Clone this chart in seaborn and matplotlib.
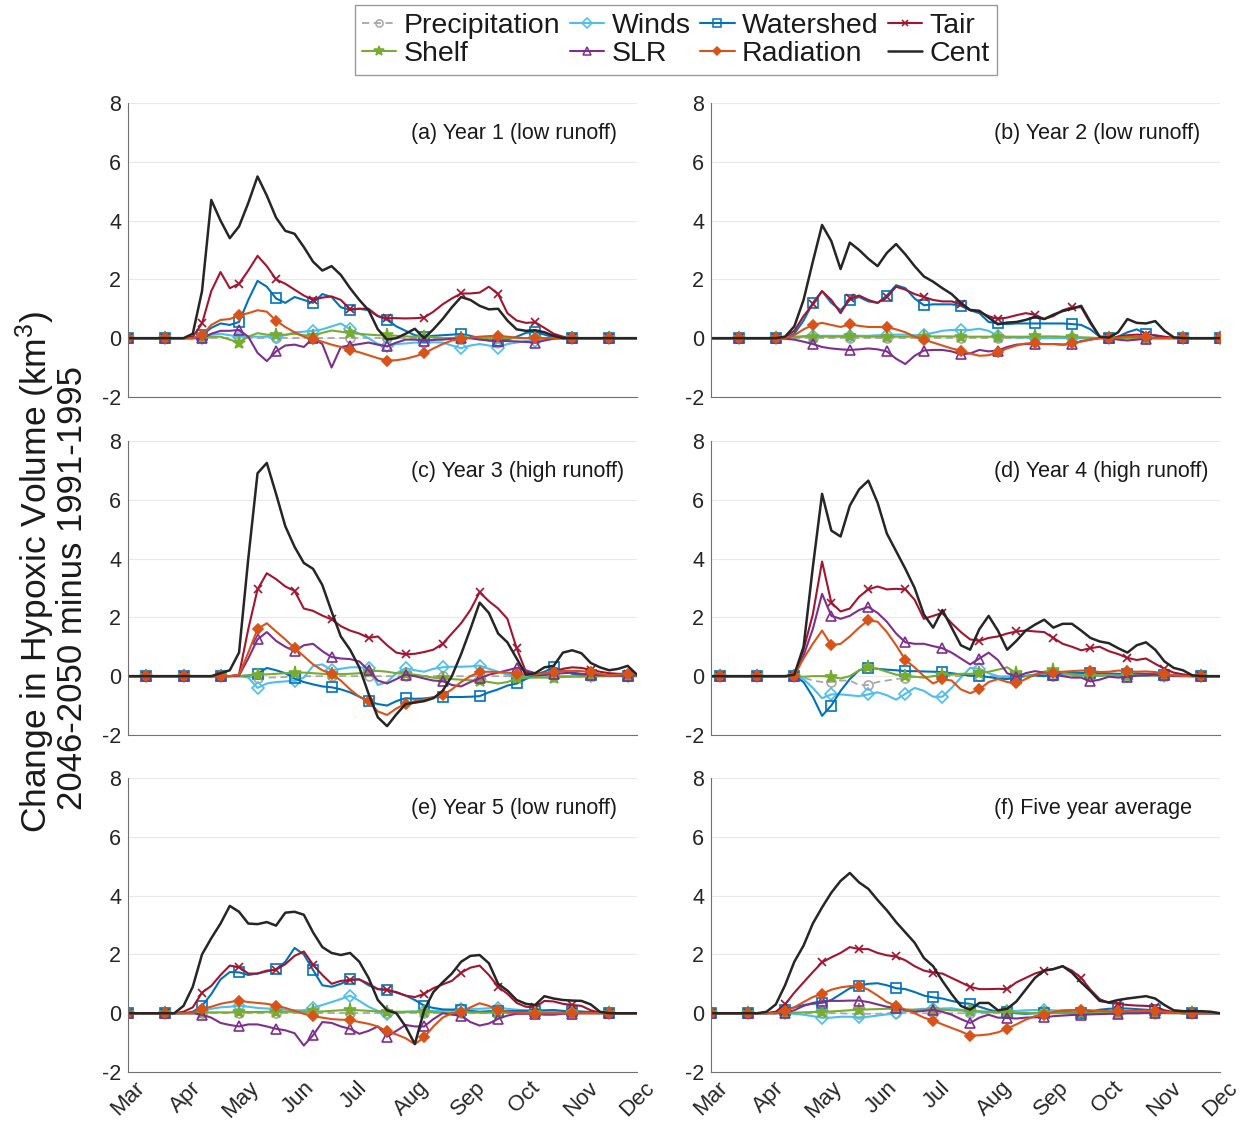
import matplotlib
matplotlib.use("Agg")
import matplotlib.pyplot as plt
from matplotlib.lines import Line2D
import seaborn as sns

# ---------------------------------------------------------------------------
# Data: change in hypoxic volume (km^3), 2046-2050 minus 1991-1995,
# sampled every 5 days from 1 March (day 0) to 1 December (day 275).
# ---------------------------------------------------------------------------
DAYS = list(range(0, 276, 5))
MONTH_DAYS = [0, 31, 61, 92, 122, 153, 184, 214, 245, 275]
MONTH_LABELS = ["Mar", "Apr", "May", "Jun", "Jul", "Aug", "Sep", "Oct", "Nov", "Dec"]
Y_TICKS = [-2, 0, 2, 4, 6, 8]

SERIES = ["Precipitation", "Winds", "Watershed", "Tair", "Shelf", "SLR", "Radiation", "Cent"]
PANEL_TITLES = ["(a) Year 1 (low runoff)", "(b) Year 2 (low runoff)",
                "(c) Year 3 (high runoff)", "(d) Year 4 (high runoff)",
                "(e) Year 5 (low runoff)", "(f) Five year average"]
# index of the first marked sample in each panel (markers every 20 days)
MARK_START = [0, 3, 2, 1, 0, 0]

# ---- (a) Year 1 ----
A_PRECIP = [0, 0, 0, 0, 0, 0, 0, 0, 0, 0, 0, 0, 0, 0, 0, 0, 0, 0, 0, 0, 0, 0, 0, 0, 0, 0, 0, 0,
            0, 0, 0, 0, 0, 0, 0, 0, 0, 0, 0, 0, 0, 0, 0, 0, 0, 0, 0, 0, 0, 0, 0, 0, 0, 0, 0, 0]
A_WINDS = [0, 0, 0, 0, 0, 0, 0, 0,
           .02, .12, .15, .1, .05, .05, .05, .05, .05, .1, .2, .22, .25, .3, .4, .5, .3, .15, 0, -.2,
           -.28, -.2, -.18, -.15, -.15, -.14, -.15, -.25, -.34, -.25, -.2, -.25, -.32, -.2, -.15, -.1,
           -.08, -.04, 0, 0, 0, 0, 0, 0, 0, 0, 0, 0]
A_WATERSHED = [0, 0, 0, 0, 0, 0, 0, 0,
               .1, .35, .5, .45, .55, 1.3, 1.95, 1.75, 1.35, 1.2, 1.4, 1.3, 1.2, 1.5, 1.4, 1.05, .96,
               1.0, .95, .75, .62, .4, .25, .1, .05, .08, .1, .12, .14, .08, 0, -.08, -.1, -.05, .05,
               .18, .22, .12, .03, 0, 0, 0, 0, 0, 0, 0, 0, 0]
A_TAIR = [0, 0, 0, 0, 0, 0, 0,
          .05, .5, 1.6, 2.25, 1.7, 1.85, 2.3, 2.8, 2.45, 2.0, 1.85, 1.65, 1.45, 1.3, 1.38, 1.42, 1.3,
          .98, 1.0, 1.0, .75, .68, .68, .67, .68, .7, .9, 1.15, 1.35, 1.52, 1.52, 1.55, 1.75, 1.5, .85,
          .6, .52, .54, .35, .15, .05, 0, 0, 0, 0, 0, 0, 0, 0]
A_SHELF = [0, 0, 0, 0, 0, 0, 0, 0, 0,
           .05, .05, -.05, -.15, .05, .17, .12, .1, .12, .15, .1, .08, .18, .26, .22, .17, .15, .12,
           .1, .1, .08, .06, .05, .05, .03,
           0, 0, 0, 0, 0, 0, 0, 0, 0, 0, 0, 0, 0, 0, 0, 0, 0, 0, 0, 0, 0, 0]
A_SLR = [0, 0, 0, 0, 0, 0, 0, 0, 0,
         .15, .25, .25, .28, .05, -.5, -.78, -.45, -.25, -.22, -.3, 0, -.2, -1.0, -.3, -.25, -.2,
         -.15, -.22, -.28, -.15, -.05, -.05, -.08, -.06, -.05, -.02, 0, 0, -.05, -.08, -.08, -.1,
         -.11, -.13, -.15, -.08, -.02, 0, 0, 0, 0, 0, 0, 0, 0, 0]
A_RADIATION = [0, 0, 0, 0, 0, 0, 0, 0,
               .1, .45, .62, .65, .78, .85, .95, .9, .6, .38, .2, .05, -.03, -.12, -.22, -.3, -.4,
               -.48, -.58, -.68, -.76, -.75, -.7, -.62, -.52, -.35, -.2, -.08, -.03, .02, .05, .07,
               .08, .05, .02, 0, 0, 0, 0, 0, 0, 0, 0, 0, 0, 0, 0, 0]
A_CENT = [0, 0, 0, 0, 0, 0, 0,
          .15, 1.6, 4.7, 4.0, 3.4, 3.8, 4.6, 5.5, 4.85, 4.1, 3.65, 3.55, 3.1, 2.6, 2.3, 2.45, 2.15,
          1.7, 1.3, .95, .3, -.05, 0, .15, .32, 0, .3, .65, 1.05, 1.4, 1.3, 1.1, .98, 1.0, .6, .3,
          .25, .27, .2, .08, 0, 0, 0, 0, 0, 0, 0, 0, 0]

# ---- (b) Year 2 ----
B_PRECIP = [0, 0, 0, 0, 0, 0, 0, 0, 0, 0, 0, 0, 0, 0, 0, 0, 0, 0, 0, 0, 0, 0, 0, 0, 0, 0, 0, 0,
            0, 0, 0, 0, 0, 0, 0, 0, 0, 0, 0, 0, 0, 0, 0, 0, 0, 0, 0, 0, 0, 0, 0, 0, 0, 0, 0, 0]
B_WINDS = [0, 0, 0, 0, 0, 0, 0, 0, 0,
           .05, .07, .08, .08, .08, .08, .08, .08, .08, .1, .1, .12, .12, .1, .12, .18, .25, .28,
           .28, .28, .32, .25, .08, .03, .02, .02, 0,
           0, 0, 0, 0, 0, 0, 0, 0, 0, 0, 0, 0, 0, 0, 0, 0, 0, 0, 0, 0]
B_WATERSHED = [0, 0, 0, 0, 0, 0, 0, 0, 0,
               .15, .6, 1.2, 1.6, 1.2, .95, 1.3, 1.4, 1.25, 1.2, 1.45, 1.8, 1.7, 1.35, 1.12, 1.15,
               1.15, 1.15, 1.1, .95, .85, .55, .5, .48, .5, .5, .5, .5, .5, .5, .48, .45, .3, .05, 0,
               .05, .2, .3, .15, .08, .03, 0, 0, 0, 0, 0, 0]
B_TAIR = [0, 0, 0, 0, 0, 0, 0, 0,
          .05, .25, .75, 1.15, 1.6, 1.3, .85, 1.35, 1.45, 1.3, 1.2, 1.4, 1.75, 1.65, 1.5, 1.4, 1.3,
          1.25, 1.25, 1.15, .95, .9, .75, .65, .7, .78, .85, .8, .65, .75, .95, 1.05, 1.05, .5, .05,
          0, .05, .1, .12, .1, .1, .05, .01, 0, 0, 0, 0, 0]
B_SHELF = [0, 0, 0, 0, 0, 0, 0, 0, 0,
           .03, .05, .05, .05, .05, .05, .06, .06, .05, .05, .05, .05, .05, .05, .05, .06, .06, .06,
           .05, .05, .05, .05, .05, .05, .05, .05, .06, .06, .06, .05, .04, .03, .02,
           0, 0, 0, 0, 0, 0, 0, 0, 0, 0, 0, 0, 0, 0]
B_SLR = [0, 0, 0, 0, 0, 0, 0, 0,
         -.02, -.05, -.12, -.2, -.3, -.35, -.38, -.4, -.38, -.35, -.38, -.45, -.7, -.88, -.6, -.42,
         -.4, -.4, -.45, -.55, -.52, -.4, -.45, -.42, -.3, -.22, -.2, -.2, -.2, -.2, -.22, -.2, -.1,
         -.05, 0, 0, -.05, -.08, -.05, -.02, 0, 0, 0, 0, 0, 0, 0, 0]
B_RADIATION = [0, 0, 0, 0, 0, 0, 0, 0, 0,
               .1, .3, .45, .52, .45, .38, .47, .42, .38, .38, .37, .3, .2, .05, -.05, -.15, -.25,
               -.35, -.42, -.52, -.6, -.58, -.48, -.35, -.25, -.18, -.17, -.2, -.2, -.22, -.18, -.12,
               -.05, 0, 0, .02, .05, .05, .03, 0, 0, 0, 0, 0, 0, 0, 0]
B_CENT = [0, 0, 0, 0, 0, 0, 0, 0,
          .05, .4, 1.3, 2.6, 3.85, 3.3, 2.35, 3.25, 3.0, 2.7, 2.45, 2.9, 3.2, 2.85, 2.45, 2.1, 1.92,
          1.7, 1.5, 1.2, .96, .93, .7, .47, .53, .55, .62, .72, .65, .8, .92, 1.0, 1.1, .55, .05, .02,
          .2, .65, .52, .5, .58, .25, .03, 0, 0, 0, 0, 0]

# ---- (c) Year 3 ----
C_PRECIP = [0, 0, 0, 0, 0, 0, 0, 0, 0, 0, 0, 0, 0,
            -.03, -.06, -.05, -.04, -.03,
            0, 0, 0, 0, 0, 0, 0, 0, 0, 0, 0, 0, 0, 0, 0, 0, 0, 0, 0, 0, 0, 0, 0, 0, 0, 0, 0, 0, 0,
            0, 0, 0, 0, 0, 0, 0, 0, 0]
C_WINDS = [0, 0, 0, 0, 0, 0, 0, 0, 0, 0, 0, 0, 0,
           -.05, -.4, -.25, -.2, -.18, -.15, -.05, .35, .4, .2, .25, .3, .3, .28, -.3, -.2, .1, .27,
           .2, .15, .25, .3, .32, .32, .33, .36, .25, .15, .05,
           0, 0, 0, 0, 0, 0, 0, 0, 0, 0, 0, 0, 0, 0]
C_WATERSHED = [0, 0, 0, 0, 0, 0, 0, 0, 0, 0, 0, 0,
               0, .02, .08, .28, .2, .1, -.08, -.2, -.28, -.35, -.38, -.45, -.55, -.7, -.85, -.95,
               -1.0, -.85, -.75, -.77, -.76, -.72, -.71, -.71, -.71, -.7, -.68, -.55, -.45, -.32,
               -.25, -.1, .05, .15, .3, .2, .08, .05, .05, .02, .02, .02, .02, .02]
C_TAIR = [0, 0, 0, 0, 0, 0, 0, 0, 0, 0, 0, 0,
          .05, 1.6, 2.95, 3.5, 3.3, 3.05, 2.9, 2.3, 2.22, 2.06, 1.93, 1.7, 1.55, 1.45, 1.3, 1.35,
          1.05, .8, .74, .76, .82, .9, 1.1, 1.45, 1.8, 2.25, 2.85, 2.55, 2.3, 1.95, .95, .15, .02,
          .05, .1, .25, .3, .28, .22, .15, .1, .08, .08, .03]
C_SHELF = [0, 0, 0, 0, 0, 0, 0, 0, 0, 0, 0, 0, 0,
           .03, .05, .06, .08, .1, .12, .12, .1, .08, .06, .07, .08, .1, .15,
           .18, .15, .1, .08, .05, 0, -.05, -.08, -.1, -.12, -.14, -.15, -.2, -.25, -.2, -.08, -.05,
           -.05, -.05, -.05, -.03, -.02, -.02, -.01, 0, 0, 0, 0, 0]
C_SLR = [0, 0, 0, 0, 0, 0, 0, 0, 0, 0, 0, 0,
         .02, .6, 1.25, 1.5, 1.2, 1.0, .85, 1.05, 1.1, .85, .65, .6, .58, .5, .2, -.15, -.25, -.1,
         .05, 0, -.08, -.15, -.17, -.3, -.35, -.2, -.08, .05, .12, .2, .28, .2, .1, .05, .08, .1,
         .12, .08, .05, .03, .02, .02, .02, .02]
C_RADIATION = [0, 0, 0, 0, 0, 0, 0, 0, 0, 0, 0, 0,
               .05, .8, 1.6, 1.8, 1.52, 1.25, .95, .68, .4, .2, .08, -.15, -.45, -.7, -.85, -1.2,
               -1.32, -1.1, -.94, -.85, -.8, -.72, -.65, -.45, -.2, 0, .14, .15, .14, .12, .08, .05,
               .05, .1, .14, .17, .18, .17, .14, .08, .03, .05, .08, .05]
C_CENT = [0, 0, 0, 0, 0, 0, 0, 0, 0, 0,
          .1, .2, .8, 4.0, 6.9, 7.25, 6.2, 5.1, 4.4, 3.85, 3.65, 3.1, 2.2, 1.35, .9, .3, -.6, -1.4,
          -1.7, -1.3, -.95, -.9, -.85, -.75, -.5, 0, .75, 1.6, 2.5, 2.15, 1.45, 1.15, .6, .05, .1,
          .3, .35, .8, .88, .78, .45, .3, .2, .25, .35, .05]

# ---- (d) Year 4 ----
D_PRECIP = [0, 0, 0, 0, 0, 0, 0, 0, 0, 0,
            -.05, -.15, -.2, -.2, -.15, -.15, -.3, -.3, -.2, -.15, -.1, -.05, -.03, -.02,
            0, 0, 0, 0, 0, 0, 0, 0, 0, 0, 0, 0, 0, 0, 0, 0, 0, 0, 0, 0, 0, 0, 0, 0, 0, 0, 0, 0,
            0, 0, 0, 0]
D_WINDS = [0, 0, 0, 0, 0, 0, 0, 0, 0, 0,
           -.1, -.4, -.75, -.62, -.62, -.65, -.68, -.62, -.55, -.65, -.8, -.6, -.4, -.5, -.7, -.7,
           -.4, -.05, .28, .25, .1, 0, -.05, 0, .02, .05, .05, .05, .05, .05, .05, .05, .03, .02,
           .02, .02, .02, .02, .02, .01, 0, 0, 0, 0, 0, 0]
D_WATERSHED = [0, 0, 0, 0, 0, 0, 0, 0, 0,
               0, -.2, -.7, -1.35, -1.0, -.5, -.1, .2, .28, .25, .22, .2, .17, .17, .16, .15, .14,
               .1, .06, .02, 0, -.03, -.08, -.1, -.05, 0, .02, 0, .05, .1, .12, .11, .1, .1, .09,
               .08, .08, .09, .08, .07, .05, .03, .01, 0, 0, 0, 0]
D_TAIR = [0, 0, 0, 0, 0, 0, 0, 0, 0,
          .02, .9, 2.1, 3.9, 2.5, 2.2, 2.3, 2.7, 2.95, 3.05, 2.95, 2.97, 2.95, 2.6, 1.95, 2.05, 2.15,
          1.8, 1.5, 1.25, 1.2, 1.3, 1.35, 1.45, 1.52, 1.55, 1.52, 1.5, 1.3, 1.1, 1.0, .88, .95, 1.0,
          .85, .75, .62, .55, .6, .42, .25, .12, .06, .02, 0, 0, 0]
D_SHELF = [0, 0, 0, 0, 0, 0, 0, 0, 0, 0,
           -.02, 0, 0, -.02, -.08, 0, .2, .3, .25, .15, .05, .02, -.02, -.05, 0, .05, .05, .08, .08,
           .1, .15, .22, .3, .1, 0, .05, .15, .22, .12, .05, .02, .02, .02, .02, .02, .02, .02, .02,
           .02, .01, 0, 0, 0, 0, 0, 0]
D_SLR = [0, 0, 0, 0, 0, 0, 0, 0, 0,
         .02, .7, 1.6, 2.8, 2.05, 1.95, 2.05, 2.25, 2.35, 2.15, 1.85, 1.45, 1.15, 1.1, 1.1, 1.02,
         .95, .8, .6, .4, .6, .8, .55, .1, -.02, .1, .17, .12, .05, 0, -.05, -.05, -.18, -.12, -.02,
         -.05, -.02, .02, .03, .05, .03, .01, .01, 0, 0, 0, 0]
D_RADIATION = [0, 0, 0, 0, 0, 0, 0, 0, 0,
               .02, .6, 1.1, 1.55, 1.05, 1.1, 1.35, 1.65, 1.9, 1.85, 1.5, 1.05, .55, .3, 0, -.25,
               -.1, -.15, -.45, -.58, -.45, -.2, -.1, -.2, -.25, -.1, .05, .1, .12, .15, .17, .19,
               .18, .14, .15, .19, .17, .15, .16, .14, .08, .03, .01, 0, 0, 0, 0]
D_CENT = [0, 0, 0, 0, 0, 0, 0, 0, 0,
          .05, 1.0, 3.7, 6.2, 4.95, 4.75, 5.8, 6.35, 6.65, 5.9, 4.85, 4.25, 3.65, 3.0, 2.1, 1.65,
          2.25, 1.65, 1.05, .9, 1.6, 2.05, 1.55, .9, 1.2, 1.55, 1.75, 1.92, 1.65, 1.78, 1.78, 1.55,
          1.3, 1.18, 1.12, .95, .8, 1.05, 1.15, .9, .5, .28, .2, .03, 0, 0, 0]

# ---- (e) Year 5 ----
E_PRECIP = [0, 0, 0, 0, 0, 0, 0, 0, 0, 0, 0, 0, 0, 0, 0, 0, 0, 0, 0, 0, 0, 0, 0, 0, 0, 0, 0, 0,
            0, 0, 0, 0, 0, 0, 0, 0, 0, 0, 0, 0, 0, 0, 0, 0, 0, 0, 0, 0, 0, 0, 0, 0, 0, 0, 0, 0]
E_WINDS = [0, 0, 0, 0, 0, 0, 0, 0,
           .1, .15, .2, .22, .26, .22, .18, .16, .15, .12, .1, .1, .18, .28, .38, .48, .6, .42, .22,
           .08, -.02, .02, .05, .06, .06, .08, .1, .12, .15, .15, .15, .17, .18, .15, .12, .1, .08,
           .07, .06, .06, .06, .04, .02, 0, 0, 0, 0, 0]
E_WATERSHED = [0, 0, 0, 0, 0, 0, 0,
               .05, .25, .65, 1.15, 1.4, 1.39, 1.3, 1.35, 1.42, 1.5, 1.75, 2.22, 2.0, 1.47, .95, .9,
               1.0, 1.15, 1.15, .95, .82, .8, .7, .6, .45, .26, .18, .13, .12, .11, .08, .05, .07,
               .07, .07, .08, .08, .09, .1, .11, .08, .07, .06, .04, .01, 0, 0, 0, 0]
E_TAIR = [0, 0, 0, 0, 0, 0,
          .05, .2, .7, .93, 1.3, 1.62, 1.57, 1.35, 1.35, 1.45, 1.48, 1.67, 1.95, 2.1, 1.65, 1.3, 1.0,
          1.1, 1.13, 1.15, 1.0, .82, .79, .72, .6, .55, .66, .85, .98, 1.1, 1.38, 1.55, 1.62, 1.3,
          .9, .66, .35, .22, .2, .42, .4, .32, .28, .25, .1, .02, 0, 0, 0, 0]
E_SHELF = [0, 0, 0, 0, 0, 0, 0, 0,
           .02, .03, .03, .03, .04, .04, .04, .05, .05, .05, .05, .05, .06, .06, .08, .1, .11, .1,
           .08, .06, .05, .05, .05, .05, .04, .04, .03, .03, .03, .03, .02, .02, .02, .02,
           0, 0, 0, 0, 0, 0, 0, 0, 0, 0, 0, 0, 0, 0]
E_SLR = [0, 0, 0, 0, 0, 0, 0, 0,
         -.05, -.15, -.33, -.4, -.45, -.38, -.38, -.45, -.53, -.58, -.68, -1.1, -.75, -.3, -.33,
         -.45, -.53, -.7, -.6, -.45, -.8, -.6, -.4, -.45, -.45, -.2, 0, -.05, -.08, -.3, -.42, -.35,
         -.19, -.08, -.02, -.02, -.02, -.05, -.05, -.02, -.02, 0, 0, 0, 0, 0, 0, 0]
E_RADIATION = [0, 0, 0, 0, 0, 0, 0, 0,
               .15, .22, .32, .38, .43, .38, .35, .32, .26, .18, .08, -.02, -.1, -.15, -.2, -.22,
               -.23, -.3, -.36, -.45, -.62, -.72, -.85, -1.05, -.82, -.45, -.15, 0, .03, .2, .34,
               .25, .11, .05, .02, 0, -.02, 0, 0, 0, 0, 0, 0, 0, 0, 0, 0, 0]
E_CENT = [0, 0, 0, 0, 0, 0,
          .25, .9, 2.0, 2.55, 3.05, 3.65, 3.45, 3.05, 3.03, 3.1, 2.98, 3.42, 3.45, 3.35, 2.75, 2.25,
          2.05, 1.98, 2.05, 1.75, 1.2, .45, .1, 0, -.45, -1.05, .1, .72, 1.05, 1.35, 1.75, 1.95,
          1.98, 1.7, 1.0, .77, .45, .32, .28, .58, .5, .45, .43, .42, .3, .05, 0, 0, 0, 0]

# ---- (f) Five year average ----
F_PRECIP = [0, 0, 0, 0, 0, 0, 0, 0, 0, 0, 0, 0, 0, 0, 0,
            -.02, -.02, -.02, -.02,
            0, 0, 0, 0, 0, 0, 0, 0, 0, 0, 0, 0, 0, 0, 0, 0, 0, 0, 0, 0, 0, 0, 0, 0, 0, 0, 0, 0,
            0, 0, 0, 0, 0, 0, 0, 0, 0]
F_WINDS = [0, 0, 0, 0, 0, 0, 0, 0, 0,
           -.02, -.05, -.1, -.15, -.15, -.12, -.12, -.14, -.12, -.08, -.04, 0, .05, .12, .15, .15,
           .16, .17, .12, .07, .04, .03, .05, .07, .08, .1, .11, .11, .1, .08, .06, .05, .04, .03,
           .03, .03, .03, .03, .02, .02, .01, 0, 0, 0, 0, 0, 0]
F_WATERSHED = [0, 0, 0, 0, 0, 0, 0,
               .03, .12, .2, .28, .32, .35, .45, .65, .85, .94, 1.0, 1.02, .95, .85, .82, .72, .6,
               .54, .5, .42, .35, .32, .22, .12, .05, .03, 0, -.02, 0, 0, .02, .03, .02, 0, .05, .12,
               .15, .17, .16, .14, .12, .1, .06, .02, 0, 0, 0, 0, 0]
F_TAIR = [0, 0, 0, 0, 0, 0, 0,
          .05, .3, .7, 1.05, 1.4, 1.73, 1.9, 2.05, 2.25, 2.18, 2.18, 2.05, 1.97, 1.93, 1.8, 1.6,
          1.45, 1.38, 1.35, 1.2, 1.05, .9, .82, .82, .83, .82, 1.05, 1.2, 1.35, 1.45, 1.5, 1.6, 1.45,
          1.2, .8, .48, .35, .32, .28, .26, .25, .22, .1, .04, 0, 0, 0, 0, 0]
F_SHELF = [0, 0, 0, 0, 0, 0, 0, 0, 0,
           .02, .03, .04, .05, .06, .08, .1, .12, .13, .14, .15, .14, .13, .12, .12, .12, .12, .1,
           .09, .08, .07, .05, .04, .03, .02, .02,
           0, 0, 0, 0, 0, 0, 0, 0, 0, 0, 0, 0, 0, 0, 0, 0, 0, 0, 0, 0, 0]
F_SLR = [0, 0, 0, 0, 0, 0, 0, 0,
         .02, .1, .25, .35, .41, .42, .42, .43, .43, .38, .3, .22, .18, .1, .05, .08, .11, .05, -.05,
         -.2, -.33, -.15, -.05, -.15, -.16, -.18, -.15, -.14, -.14, -.1, -.08, -.06, -.05, -.04,
         -.03, -.02, -.02, 0, 0, .01, .01, .02, .03, .02, 0, 0, 0, 0]
F_RADIATION = [0, 0, 0, 0, 0, 0, 0, 0,
               .08, .2, .38, .55, .66, .8, .88, .92, .93, .8, .6, .38, .26, .12, 0, -.15, -.25,
               -.38, -.5, -.62, -.76, -.75, -.72, -.65, -.52, -.38, -.22, -.1, -.05, .05, .1, .11,
               .11, .1, .08, .07, .07, .08, .08, .08, .08, .05, .02, 0, 0, 0, 0, 0]
F_CENT = [0, 0, 0, 0, 0, 0,
          .05, .3, .95, 1.75, 2.3, 3.05, 3.6, 4.1, 4.5, 4.77, 4.45, 4.23, 3.85, 3.5, 3.1, 2.75, 2.4,
          1.88, 1.6, 1.1, .65, .25, .12, .35, .35, .1, .15, .4, .8, 1.2, 1.45, 1.5, 1.6, 1.38, 1.05,
          .75, .42, .37, .45, .5, .54, .58, .5, .28, .1, .07, .07, .07, .05, 0]

PANELS = [
    [A_PRECIP, A_WINDS, A_WATERSHED, A_TAIR, A_SHELF, A_SLR, A_RADIATION, A_CENT],
    [B_PRECIP, B_WINDS, B_WATERSHED, B_TAIR, B_SHELF, B_SLR, B_RADIATION, B_CENT],
    [C_PRECIP, C_WINDS, C_WATERSHED, C_TAIR, C_SHELF, C_SLR, C_RADIATION, C_CENT],
    [D_PRECIP, D_WINDS, D_WATERSHED, D_TAIR, D_SHELF, D_SLR, D_RADIATION, D_CENT],
    [E_PRECIP, E_WINDS, E_WATERSHED, E_TAIR, E_SHELF, E_SLR, E_RADIATION, E_CENT],
    [F_PRECIP, F_WINDS, F_WATERSHED, F_TAIR, F_SHELF, F_SLR, F_RADIATION, F_CENT],
]
bad = [(p, SERIES[s], len(v)) for p, panel in enumerate(PANELS)
       for s, v in enumerate(panel) if len(v) != len(DAYS)]
assert not bad, f"length mismatch: {bad}"

# ---------------------------------------------------------------------------
# Styling
# ---------------------------------------------------------------------------
STYLE = {
    "Precipitation": dict(color="#a8a8a8", ls=(0, (4, 2.5)), marker="o", mfc="none", ms=6.5, lw=1.3),
    "Winds":         dict(color="#4DBEEE", ls="-", marker="D", mfc="none", ms=6.0, lw=1.5),
    "Watershed":     dict(color="#0072BD", ls="-", marker="s", mfc="none", ms=6.5, lw=1.5),
    "Tair":          dict(color="#A2142F", ls="-", marker="x", mfc="none", ms=6.0, lw=1.5),
    "Shelf":         dict(color="#77AC30", ls="-", marker="*", mfc="#77AC30", ms=9.5, lw=1.5),
    "SLR":           dict(color="#7E2F8E", ls="-", marker="^", mfc="none", ms=7.0, lw=1.5),
    "Radiation":     dict(color="#D95319", ls="-", marker="D", mfc="#D95319", ms=5.5, lw=1.5),
    "Cent":          dict(color="#262626", ls="-", marker=None, mfc="none", ms=0, lw=1.8),
}

sns.set_style("white")
plt.rcParams.update({
    "font.family": ["Liberation Sans", "DejaVu Sans"],
    "mathtext.fontset": "custom",
    "mathtext.rm": "Liberation Sans",
    "mathtext.it": "Liberation Sans:italic",
    "axes.edgecolor": "#707070",
    "axes.linewidth": 0.8,
    "text.color": "#1a1a1a",
    "xtick.color": "#707070",
    "ytick.color": "#707070",
    "xtick.labelcolor": "#262626",
    "ytick.labelcolor": "#262626",
})

fig = plt.figure(figsize=(12.45, 11.3), dpi=100)

LEFTS = [0.1028, 0.5711]
BOTTOMS = [0.6487, 0.3496, 0.0513]
WIDTH, HEIGHT = 0.4088, 0.2602

for p, panel in enumerate(PANELS):
    row, col = divmod(p, 2)
    ax = fig.add_axes([LEFTS[col], BOTTOMS[row], WIDTH, HEIGHT])
    for name, values in zip(SERIES, panel):
        st = STYLE[name]
        kws = dict(color=st["color"], linestyle=st["ls"], linewidth=st["lw"])
        if st["marker"] is not None:
            kws.update(marker=st["marker"], markersize=st["ms"], markevery=(MARK_START[p], 4),
                       markerfacecolor=st["mfc"], markeredgecolor=st["color"],
                       markeredgewidth=1.2)
        sns.lineplot(x=DAYS, y=values, ax=ax, estimator=None, errorbar=None,
                     sort=False, legend=False, **kws)

    ax.set_xlim(MONTH_DAYS[0], MONTH_DAYS[-1])
    ax.set_ylim(-2, 8)
    ax.set_yticks(Y_TICKS)
    ax.set_yticklabels([str(t) for t in Y_TICKS], fontsize=15.5)
    ax.set_xticks(MONTH_DAYS)
    if row == 2:
        ax.set_xticklabels(MONTH_LABELS, fontsize=16, rotation=45)
        ax.tick_params(axis="x", direction="in", length=4, pad=4)
    else:
        ax.set_xticklabels([])
        ax.tick_params(axis="x", length=0)
    ax.tick_params(axis="y", direction="in", length=4, pad=5)
    ax.grid(axis="y", color="#e9e9e9", linewidth=0.8)
    ax.set_axisbelow(True)
    ax.set_xlabel("")
    ax.set_ylabel("")
    sns.despine(ax=ax)
    ax.text(153, 6.95, PANEL_TITLES[p], fontsize=15.5, ha="left", va="center", color="#1a1a1a")

# shared y-axis label
fig.text(0.028, 0.494, r"Change in Hypoxic Volume (km$^{\mathregular{3}}$)", rotation=90,
         ha="center", va="center", fontsize=25.5)
fig.text(0.058, 0.48, "2046-2050 minus 1991-1995", rotation=90,
         ha="center", va="center", fontsize=25)

# legend laid out row-wise in four columns
handles = {}
for name in SERIES:
    st = STYLE[name]
    handles[name] = Line2D([], [], color=st["color"], linestyle=st["ls"], linewidth=st["lw"],
                           marker=st["marker"] if st["marker"] else None,
                           markersize=st["ms"] * 0.8, markerfacecolor=st["mfc"],
                           markeredgecolor=st["color"], markeredgewidth=1.1)
order = ["Precipitation", "Shelf", "Winds", "SLR", "Watershed", "Radiation", "Tair", "Cent"]
fig.legend([handles[n] for n in order], order, ncol=4, loc="center",
           bbox_to_anchor=(0.543, 0.9646), fontsize=20.5, frameon=True, fancybox=False,
           edgecolor="#9a9a9a", framealpha=1, handlelength=1.2, handletextpad=0.25,
           columnspacing=0.35, borderpad=0.25, labelspacing=0.1, borderaxespad=0)

fig.savefig("out.png", dpi=100)
